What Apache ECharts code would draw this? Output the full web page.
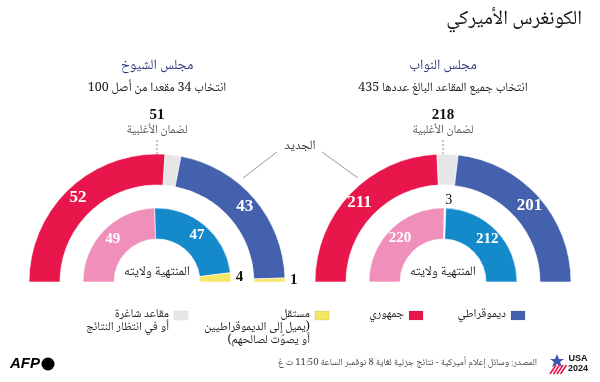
<!DOCTYPE html>
<html><head><meta charset="utf-8">
<script src="https://cdn.jsdelivr.net/npm/echarts@6/dist/echarts.min.js"></script>
<style>html,body{margin:0;padding:0;background:#fff}#c{width:600px;height:382px}</style>
</head><body><div id="c" dir="rtl"></div>
<script>
// ---- data ----
const title = 'الكونغرس الأميركي';
const chamberNames = ['مجلس الشيوخ', 'مجلس النواب'];
const chamberSubs = ['انتخاب 34 مقعدا من أصل 100', 'انتخاب جميع المقاعد البالغ عددها 435'];
const majority = [51, 218];
const majorityLabel = 'لضمان الأغلبية';
const newLabel = 'الجديد';
const oldLabel = 'المنتهية ولايته';
// order: Republican, vacant, Democrat, Independent
const groups = ['جمهوري', 'شاغرة', 'ديموقراطي', 'مستقل'];
const senateNew = [52, 4, 43, 1];
const senateOld = [49, 0, 47, 4];
const houseNew = [211, 23, 201, 0];
const houseOld = [220, 3, 212, 0];
const legendItems = [
  ['ديموقراطي'],
  ['جمهوري'],
  ['مستقل', '(يميل إلى الديموقراطيين', 'أو يصوّت لصالحهم)'],
  ['مقاعد شاغرة', 'أو في انتظار النتائج']
];
const source = 'المصدر: وسائل إعلام أميركية - نتائج جزئية لغاية 8 نوفمبر الساعة 11:50 ت غ';

// ---- styles ----
const AR = "'Noto Naskh Arabic','Noto Sans Arabic','DejaVu Sans',sans-serif";
const SERIF = "'Liberation Serif','DejaVu Serif',serif";
const colNew = ['#e8164a', '#e6e6e6', '#4461ad', '#f5e665'];
const colOld = ['#ef8fba', '#ffffff', '#158acb', '#f5e665'];
const legendCols = [colNew[2], colNew[0], colNew[3], colNew[1]];
const centers = [[157, 282], [443, 282]];
const outerR = [97, 128], innerR = [43, 74];

function makeData(vals, cols, isNew) {
  const out = [];
  vals.forEach((v, i) => {
    if (!v) return;
    const d = { value: v, name: groups[i], itemStyle: { color: cols[i] } };
    if (i === 0 || i === 2) {
      d.label = { show: true, position: 'inside', color: '#fff', fontFamily: SERIF, fontWeight: 'bold', fontSize: isNew ? 17 : 15, formatter: '{c}' };
    } else if (i === 3) {
      d.label = { show: true, position: 'outside', color: '#111', fontFamily: SERIF, fontWeight: 'bold', fontSize: 15, formatter: '{c}', distanceToLabelLine: 5 };
      d.labelLine = { show: false, length: 0, length2: 0 };
    } else if (i === 1 && !isNew) {
      d.label = { show: true, position: 'outside', color: '#111', fontFamily: SERIF, fontSize: 14, formatter: '{c}', distanceToLabelLine: 0 };
      d.labelLine = { show: false, length: 8, length2: 0 };
    } else {
      d.label = { show: false };
    }
    out.push(d);
  });
  return out;
}
function pie(center, radius, vals, cols, isNew) {
  return {
    type: 'pie', center, radius, startAngle: 180, endAngle: 0, clockwise: true,
    avoidLabelOverlap: false, silent: true, animation: false,
    itemStyle: { borderColor: '#fff', borderWidth: 0.6 },
    labelLine: { show: false },
    labelLayout: (p) => (p.name === groups[3] ? { dy: -5 } : {}),
    data: makeData(vals, cols, isNew)
  };
}

const graphic = [];
const T = (x, y, text, style) => graphic.push({ type: 'text', x, y, style: Object.assign({ text, fontFamily: AR, align: 'center', verticalAlign: 'middle', fill: '#222' }, style) });
T(582, 21, title, { align: 'right', fontSize: 20, fill: '#111' });
centers.forEach((c, k) => {
  T(c[0], 67, chamberNames[k], { fontSize: 14, fill: '#2c3a7e' });
  T(c[0], 89, chamberSubs[k], { fontSize: 12.5, fill: '#222' });
  T(c[0], 115, String(majority[k]), { fontFamily: SERIF, fontWeight: 'bold', fontSize: 15, fill: '#111' });
  T(c[0], 131, majorityLabel, { fontSize: 12, fill: '#555' });
  graphic.push({ type: 'line', shape: { x1: c[0], y1: 140, x2: c[0], y2: c[1] - outerR[1] }, style: { stroke: '#888', lineWidth: 1, lineDash: [2, 2] } });
  T(c[0], 273, oldLabel, { fontSize: 13, fill: '#222' });
});
T(300, 147, newLabel, { fontSize: 13, fill: '#333' });
graphic.push({ type: 'line', shape: { x1: 277, y1: 152, x2: 243, y2: 178 }, style: { stroke: '#999', lineWidth: 1 } });
graphic.push({ type: 'line', shape: { x1: 322, y1: 152, x2: 358, y2: 178 }, style: { stroke: '#999', lineWidth: 1 } });

// legend
const legendX = [525, 423, 329, 188];
legendItems.forEach((lines, i) => {
  graphic.push({ type: 'rect', shape: { x: legendX[i] - 14, y: 311, width: 14, height: 9 }, style: { fill: legendCols[i], stroke: i === 3 ? '#ddd' : 'rgba(0,0,0,0.15)', lineWidth: 0.6 } });
  lines.forEach((ln, j) => T(legendX[i] - 19, 315 + j * 13, ln, { align: 'right', fontSize: 12, fill: '#222' }));
});

// footer
T(537, 364, source, { align: 'right', fontSize: 9.5, fill: '#444' });
graphic.push({ type: 'text', x: 10, y: 364, style: { text: 'AFP', fontFamily: "'Liberation Sans',Arial,sans-serif", fontWeight: 'bold', fontStyle: 'italic', fontSize: 15, fill: '#000', verticalAlign: 'middle', align: 'left' } });
graphic.push({ type: 'circle', shape: { cx: 48, cy: 364, r: 6.5 }, style: { fill: '#000' } });
// USA 2024 logo
graphic.push({ type: 'polygon', shape: { points: [[557,354],[559,359],[564,359],[560,362],[562,367],[557,364],[552,367],[554,362],[550,359],[555,359]] }, style: { fill: '#3a57b0' } });
for (let s = 0; s < 4; s++) graphic.push({ type: 'line', shape: { x1: 550 + s * 3.5, y1: 374, x2: 556 + s * 3.5, y2: 365 }, style: { stroke: '#e8164a', lineWidth: 1.6 } });
graphic.push({ type: 'text', x: 578, y: 359, style: { text: 'USA', fontFamily: "'Liberation Sans',Arial,sans-serif", fontWeight: 'bold', fontSize: 9, fill: '#111', align: 'center', verticalAlign: 'middle' } });
graphic.push({ type: 'text', x: 578, y: 369, style: { text: '2024', fontFamily: "'Liberation Sans',Arial,sans-serif", fontWeight: 'bold', fontSize: 9, fill: '#111', align: 'center', verticalAlign: 'middle' } });

const chart = echarts.init(document.getElementById('c'), null, { renderer: 'canvas' });
chart.setOption({
  animation: false,
  backgroundColor: '#fff',
  series: [
    pie(centers[0], outerR, senateNew, colNew, true),
    pie(centers[0], innerR, senateOld, colOld, false),
    pie(centers[1], outerR, houseNew, colNew, true),
    pie(centers[1], innerR, houseOld, colOld, false)
  ],
  graphic
});
</script></body></html>
